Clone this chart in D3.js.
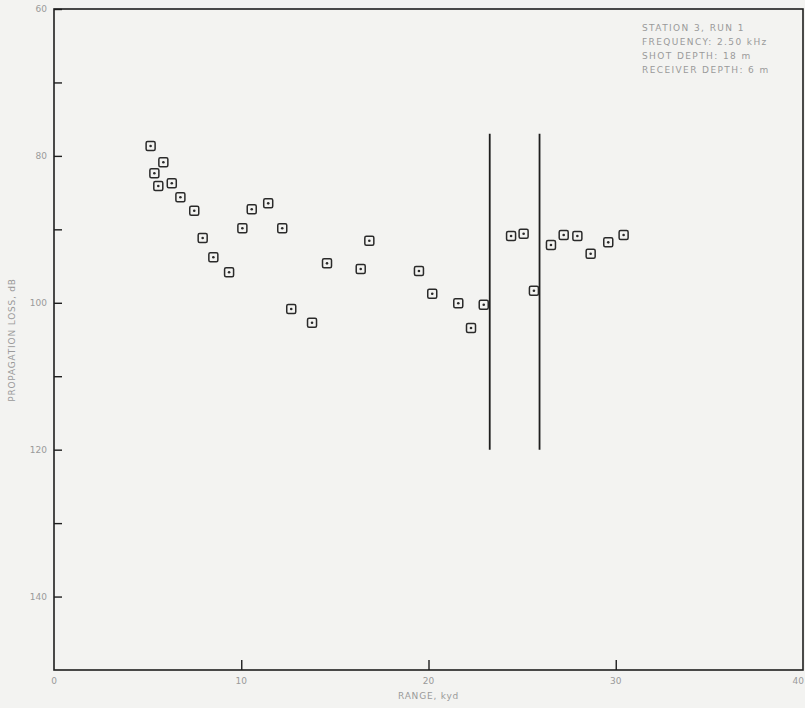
<!DOCTYPE html>
<html>
<head>
<meta charset="utf-8">
<script src="https://cdn.jsdelivr.net/npm/d3@7"></script>
<style>
html,body{margin:0;padding:0;background:#f3f3f1;}
svg{display:block;}
text{font-family:"DejaVu Sans","Liberation Sans",sans-serif;fill:#9a9a9a;}
</style>
</head>
<body>
<svg id="chart" width="805" height="708"></svg>
<script>
// Data (range in kyd, propagation loss in dB)
const rangeKyd = [5.16,5.84,5.36,5.57,6.29,6.75,7.49,7.94,8.51,9.35,10.06,10.56,11.44,12.19,12.67,13.78,14.58,16.38,16.84,19.49,20.20,21.59,22.27,22.95,24.41,25.08,25.63,26.54,27.22,27.95,28.66,29.60,30.42];
const lossDb   = [78.65,80.87,82.37,84.10,83.73,85.64,87.46,91.18,93.81,95.85,89.86,87.27,86.46,89.86,100.85,102.71,94.63,95.40,91.55,95.68,98.77,100.07,103.44,100.26,90.91,90.60,98.36,92.14,90.77,90.91,93.32,91.77,90.77];
const markerLinesX = [23.27, 25.93];
const markerLinesY = [77, 120];
const xTicks = [0,10,20,30,40];
const yTicksLabeled = [60,80,100,120,140];
const yTicksAll = [60,70,80,90,100,110,120,130,140];
const legendLines = ["STATION 3, RUN 1","FREQUENCY: 2.50 kHz","SHOT DEPTH: 18 m","RECEIVER DEPTH: 6 m"];
const xTitle = "RANGE, kyd";
const yTitle = "PROPAGATION LOSS, dB";

const svg = d3.select("#chart");
const m = {left:54, right:2, top:9, bottom:38};
const W = 805, H = 708;
const x = d3.scaleLinear().domain([0,40]).range([m.left, W - m.right]);
const y = d3.scaleLinear().domain([60,150]).range([m.top, H - m.bottom]);
const ink = "#1e1e1e";

// frame
svg.append("rect")
  .attr("x", x(0)).attr("y", y(60))
  .attr("width", x(40)-x(0)).attr("height", y(150)-y(60))
  .attr("fill","none").attr("stroke", ink).attr("stroke-width", 1.6);

// y axis ticks (inward)
const yAxis = d3.axisRight(y).tickValues(yTicksAll).tickSize(8).tickFormat("");
const gy = svg.append("g").attr("transform", `translate(${x(0)},0)`).call(yAxis);
gy.select(".domain").remove();
gy.selectAll(".tick line").attr("stroke", ink).attr("stroke-width", 1.4);
// y labels
svg.append("g").selectAll("text").data(yTicksLabeled).join("text")
  .attr("x", x(0)-7).attr("y", d => y(d)).attr("dy","0.35em")
  .attr("text-anchor","end").attr("font-size", 9).text(d => d);

// x axis ticks (inward)
const xAxis = d3.axisTop(x).tickValues([10,20,30]).tickSize(10).tickFormat("");
const gx = svg.append("g").attr("transform", `translate(0,${y(150)})`).call(xAxis);
gx.select(".domain").remove();
gx.selectAll(".tick line").attr("stroke", ink).attr("stroke-width", 1.4);
svg.append("g").selectAll("text").data(xTicks).join("text")
  .attr("x", d => d === 40 ? W - 1 : x(d)).attr("y", y(150)+14)
  .attr("text-anchor", d => d === 40 ? "end" : "middle").attr("font-size", 9).text(d => d);

// axis titles
svg.append("text").attr("x", x(20)).attr("y", 699)
  .attr("text-anchor","middle").attr("font-size", 9).attr("letter-spacing", 0.8).text(xTitle);
svg.append("text").attr("transform", "translate(15,340) rotate(-90)")
  .attr("text-anchor","middle").attr("font-size", 9).attr("letter-spacing", 0.8).text(yTitle);

// legend text
svg.append("g").selectAll("text").data(legendLines).join("text")
  .attr("x", 642).attr("y", (d,i) => 31 + i*14)
  .attr("font-size", 9).attr("letter-spacing", 1.4).attr("fill","#a0a0a0").text(d => d);

// vertical lines
svg.append("g").selectAll("line").data(markerLinesX).join("line")
  .attr("x1", d => x(d)).attr("x2", d => x(d))
  .attr("y1", y(markerLinesY[0])).attr("y2", y(markerLinesY[1]))
  .attr("stroke", ink).attr("stroke-width", 1.8);

// markers
const pts = rangeKyd.map((r,i) => ({r, l: lossDb[i]}));
const g = svg.append("g").selectAll("g").data(pts).join("g")
  .attr("transform", d => `translate(${x(d.r)},${y(d.l)})`);
g.append("rect").attr("x",-4.5).attr("y",-4.5).attr("width",9).attr("height",9)
  .attr("rx",1.5).attr("fill","#f3f3f1").attr("stroke", "#2a2a2a").attr("stroke-width",1.5);
g.append("circle").attr("r",1.3).attr("fill","#2a2a2a");
</script>
</body>
</html>
